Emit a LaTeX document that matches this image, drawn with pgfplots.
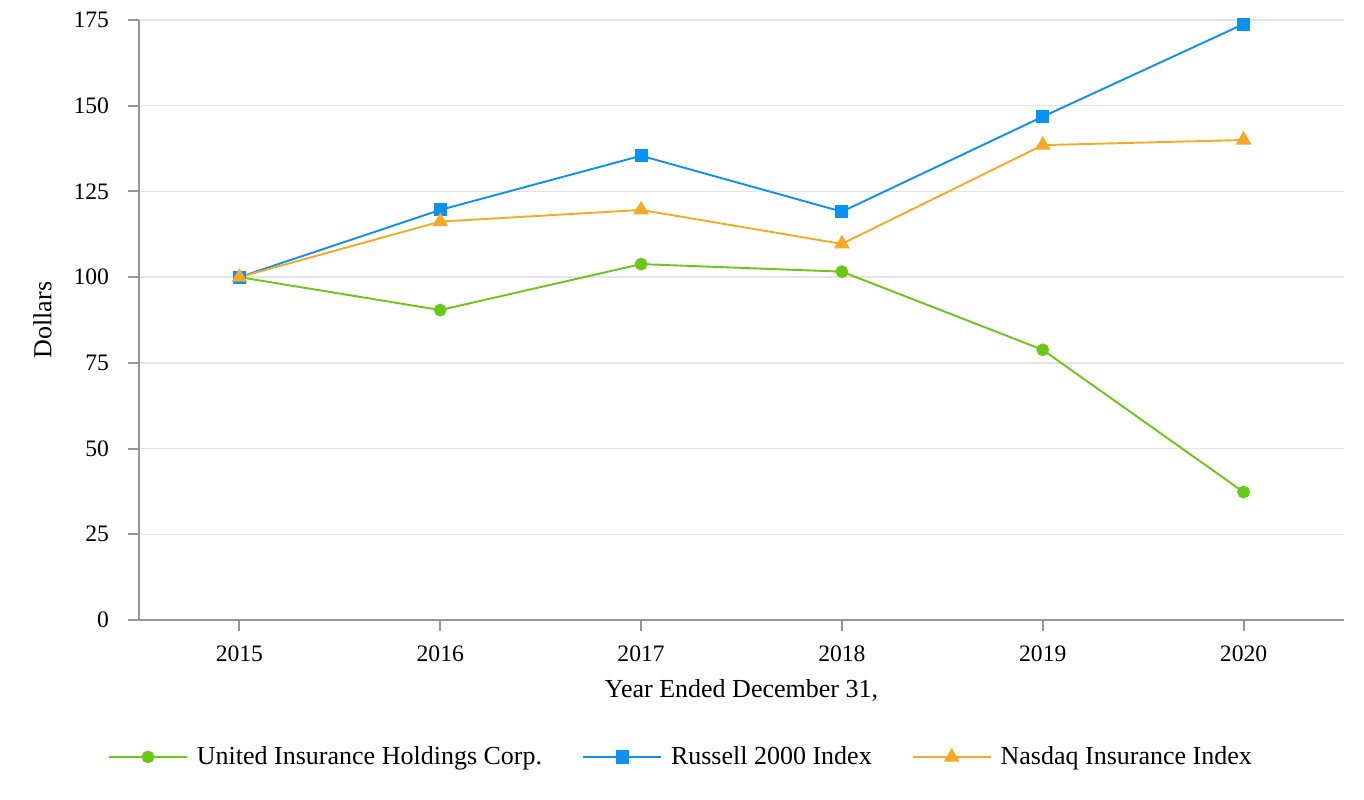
\documentclass[border=0pt]{standalone}
\usepackage{pgfplots}
\pgfplotsset{compat=1.18}
\usepackage{fontspec}
\setmainfont{Liberation Serif}
\definecolor{cgreen}{RGB}{104,200,20}
\definecolor{cblue}{RGB}{10,145,245}
\definecolor{corange}{RGB}{245,170,35}
\definecolor{cgrid}{RGB}{228,228,228}
\definecolor{caxis}{RGB}{150,150,150}
\begin{document}
\begin{tikzpicture}
\begin{axis}[
  name=ax,
  scale only axis,
  width=602.5pt, height=300pt,
  xmin=-0.5, xmax=5.5, ymin=0, ymax=175,
  xtick={0,1,2,3,4,5},
  xticklabels={2015,2016,2017,2018,2019,2020},
  ytick={0,25,50,75,100,125,150,175},
  axis lines=left,
  axis line style={-, draw=caxis, line width=1pt},
  tick style={draw=caxis, line width=1pt},
  tick align=outside,
  major tick length=5.5pt,
  ymajorgrids,
  grid style={draw=cgrid, line width=0.7pt},
  /pgf/number format/assume math mode=true,
  /pgf/number format/1000 sep={},
  tick label style={font=\fontsize{11.8}{13}\selectfont},
  yticklabel style={xshift=-6pt},
  xticklabel style={yshift=-4pt},
  label style={font=\fontsize{13}{15}\selectfont},
  xlabel={Year Ended December 31,},
  ylabel={Dollars},
  xlabel style={at={(0.5,-0.118)}, anchor=center},
  ylabel style={at={(-0.080,0.5)}, anchor=center},
  legend style={at={(0.4506,-0.2283)}, anchor=center, draw=none, fill=none,
    legend columns=3, font=\fontsize{13}{15}\selectfont,
    /tikz/every odd column/.append style={column sep=2.5pt},
    /tikz/every even column/.append style={column sep=18pt}},
  legend cell align=left,
  legend image code/.code={\draw[mark repeat=2, mark phase=2, #1] plot coordinates {(0pt,0pt) (19.5pt,0pt) (39pt,0pt)};},
  clip=false,
]
\addplot[color=cgreen, line width=0.95pt, mark=*, mark size=2.7pt, mark options={fill=cgreen, draw=cgreen}]
  coordinates {(0,100) (1,90.4) (2,103.8) (3,101.6) (4,78.8) (5,37.3)};
\addlegendentry{United Insurance Holdings Corp.}
\addplot[color=cblue, line width=0.95pt, mark=square*, mark size=2.8pt, mark options={fill=cblue, draw=cblue}]
  coordinates {(0,100) (1,119.6) (2,135.4) (3,119.1) (4,146.8) (5,173.8)};
\addlegendentry{Russell 2000 Index}
\addplot[color=corange, line width=0.95pt, mark=triangle*, mark size=3.6pt, mark options={fill=corange, draw=corange}]
  coordinates {(0,100) (1,116.2) (2,119.6) (3,109.7) (4,138.5) (5,140.0)};
\addlegendentry{Nasdaq Insurance Index}
\end{axis}
\pgfresetboundingbox
\path ([xshift=-69.5pt,yshift=-90pt]ax.south west) rectangle ([xshift=10pt,yshift=10pt]ax.north east);
\end{tikzpicture}
\end{document}
